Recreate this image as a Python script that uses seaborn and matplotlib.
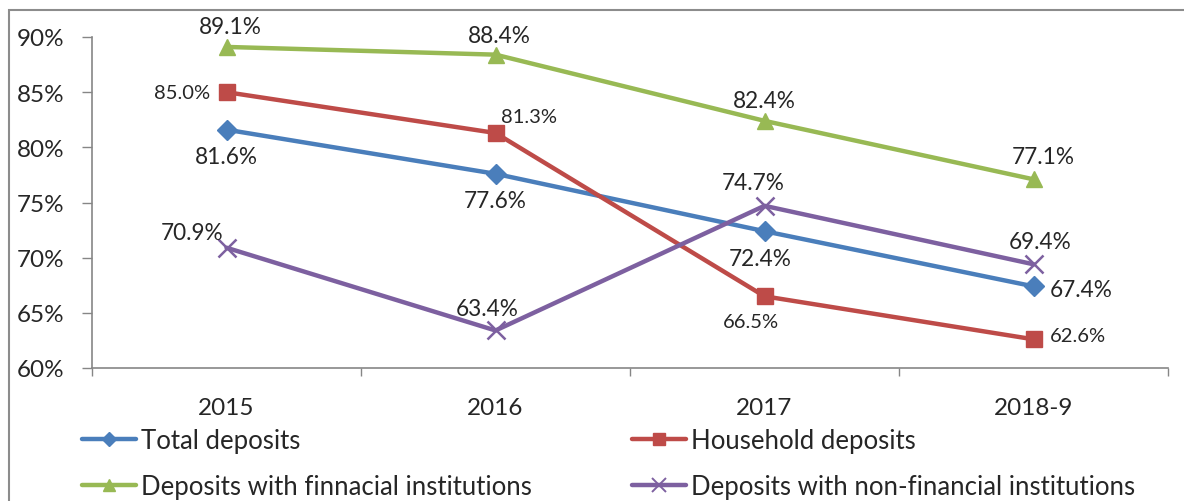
import matplotlib
matplotlib.use("Agg")
import matplotlib.pyplot as plt
import matplotlib.patches as mpatches
from matplotlib.ticker import FixedLocator
import seaborn as sns
import pandas as pd

periods = ["2015", "2016", "2017", "2018-9"]
total_deposits = [81.6, 77.6, 72.4, 67.4]
household_deposits = [85.0, 81.3, 66.5, 62.6]
financial_inst = [89.1, 88.4, 82.4, 77.1]
nonfinancial_inst = [70.9, 63.4, 74.7, 69.4]

series_names = [
    "Total deposits",
    "Household deposits",
    "Deposits with finnacial institutions",
    "Deposits with non-financial institutions",
]
series_values = [total_deposits, household_deposits, financial_inst, nonfinancial_inst]
colors = ["#4A7EBB", "#BE4B48", "#98B954", "#7D60A0"]
markers = ["D", "s", "^", "x"]
marker_sizes = [10, 11, 11, 13]
label_sizes = [16.3, 14.5, 16.3, 16.3]

# label offsets (points) and alignment for each series / period
label_pos = {
    0: [((0, -12), "center", "top"), ((0, -12), "center", "top"),
        ((-3, -12), "center", "top"), ((12, -2), "left", "center")],
    1: [((-12, 0), "right", "center"), ((4, 12), "left", "center"),
        ((-10, -12), "center", "top"), ((12, 3), "left", "center")],
    2: [((3, 7), "center", "bottom"), ((3, 6), "center", "bottom"),
        ((0, 7), "center", "bottom"), ((7, 9), "center", "bottom")],
    3: [((-2, 11), "right", "center"), ((-6, 8), "center", "bottom"),
        ((-8, 9), "center", "bottom"), ((5, 9), "center", "bottom")],
}

sns.set_theme(style="white")
plt.rcParams["font.family"] = ["Lato", "DejaVu Sans"]

fig = plt.figure(figsize=(11.84, 5.02), dpi=100)
ax = fig.add_axes([92 / 1184, 1 - 369 / 502, (1168 - 92) / 1184, (369 - 38) / 502])

for name, vals, c, m, ms in zip(series_names, series_values, colors, markers, marker_sizes):
    d = pd.DataFrame({"period": periods, "value": vals})
    sns.lineplot(
        data=d, x="period", y="value", color=c, marker=m, markersize=ms,
        markeredgecolor=c, markerfacecolor=c,
        markeredgewidth=1.8 if m == "x" else 1,
        linewidth=3.2, sort=False, ax=ax, label=name, legend=False,
    )

for si, vals in enumerate(series_values):
    for xi, v in enumerate(vals):
        (dx, dy), ha, va = label_pos[si][xi]
        ax.annotate(f"{v:.1f}%", xy=(xi, v), xytext=(dx, dy),
                    textcoords="offset points", ha=ha, va=va,
                    fontsize=label_sizes[si], color="#262626")

ax.set_xlim(-0.5, 3.5)
ax.set_ylim(60, 90)
yt = [60, 65, 70, 75, 80, 85, 90]
ax.set_yticks(yt)
ax.set_yticklabels([f"{t}%" for t in yt])
ax.set_xticks(range(len(periods)))
ax.set_xticklabels(periods)
ax.xaxis.set_minor_locator(FixedLocator([-0.5, 0.5, 1.5, 2.5, 3.5]))
ax.tick_params(axis="x", which="major", length=0, pad=21, labelsize=17.5, labelcolor="#262626")
ax.tick_params(axis="x", which="minor", length=6, width=1, color="#868686", direction="out",
               bottom=True)
ax.tick_params(axis="y", which="major", length=7, width=1, color="#868686",
               direction="out", pad=13, labelsize=17.5, labelcolor="#262626", left=True)
ax.set_xlabel("")
ax.set_ylabel("")
for s in ["top", "right"]:
    ax.spines[s].set_visible(False)
for s in ["left", "bottom"]:
    ax.spines[s].set_color("#868686")
    ax.spines[s].set_linewidth(1.2)

# legend in two columns below the plot
handles = [
    plt.Line2D([], [], color=c, marker=m, markersize=ms * 0.75, linewidth=3.2,
               markeredgecolor=c, markeredgewidth=1.4 if m == "x" else 1)
    for c, m, ms in zip(colors, markers, marker_sizes)
]
leg = fig.legend(
    [handles[0], handles[2], handles[1], handles[3]],
    [series_names[0], series_names[2], series_names[1], series_names[3]],
    ncol=2, loc="upper left", bbox_to_anchor=(82 / 1184, 1 - 429 / 502),
    frameon=False, fontsize=18.5, handlelength=2.1, handletextpad=0.2,
    columnspacing=3.9, labelspacing=0.8, borderaxespad=0, borderpad=0,
)
for t in leg.get_texts():
    t.set_color("#262626")

# outer chart border
fig.patches.append(mpatches.Rectangle(
    (9 / 1184, -0.2), 1.2, 1.2 - 11 / 502, transform=fig.transFigure,
    fill=False, edgecolor="#8C8C8C", linewidth=1.5, zorder=0))

fig.savefig("out.png", dpi=100, facecolor="white")
